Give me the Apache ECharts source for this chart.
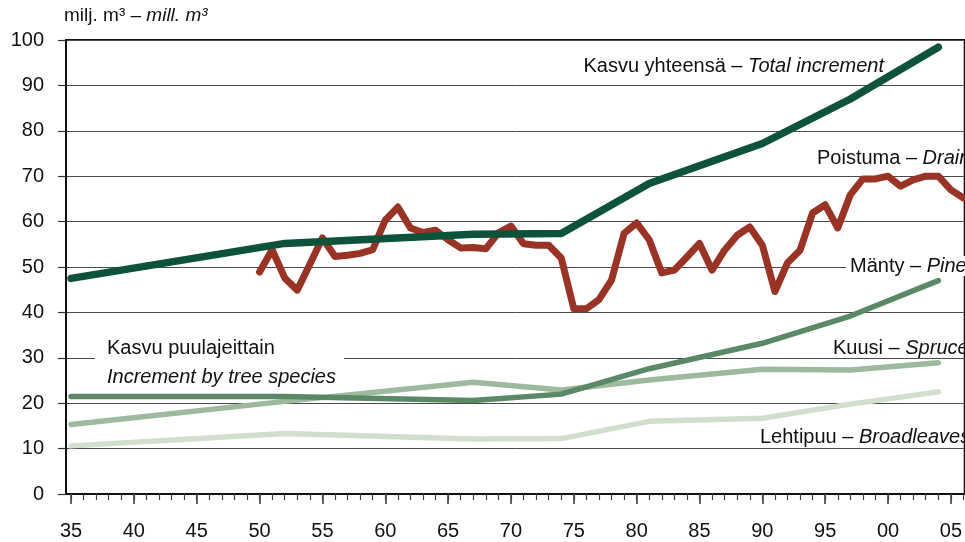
<!DOCTYPE html>
<html><head><meta charset="utf-8">
<script src="https://cdn.jsdelivr.net/npm/echarts@6/dist/echarts.min.js"></script>
<style>html,body{margin:0;padding:0;background:#fff}#c{width:965px;height:542px}</style>
</head><body><div id="c"></div>
<script>
// Increment (inventory mid-years)
const incYears = [1935, 1952, 1967, 1974, 1981, 1990, 1997, 2004];
const totalIncrement = [47.5, 55.2, 57.2, 57.4, 68.4, 77.2, 87.0, 98.4];
const pine = [21.5, 21.5, 20.6, 22.0, 27.6, 33.2, 39.2, 47.0];
const spruce = [15.3, 20.4, 24.6, 22.9, 25.1, 27.5, 27.3, 28.9];
const broadleaves = [10.6, 13.3, 12.1, 12.2, 16.0, 16.7, 19.8, 22.5];
// Drain, annual 1950-2006
const drainYears = [1950,1951,1952,1953,1954,1955,1956,1957,1958,1959,1960,1961,1962,1963,1964,1965,1966,1967,1968,1969,1970,1971,1972,1973,1974,1975,1976,1977,1978,1979,1980,1981,1982,1983,1984,1985,1986,1987,1988,1989,1990,1991,1992,1993,1994,1995,1996,1997,1998,1999,2000,2001,2002,2003,2004,2005,2006];
const drain = [48.9,53.8,47.6,44.9,50.6,56.4,52.3,52.6,53.0,53.8,60.3,63.2,58.6,57.6,58.1,56.0,54.2,54.3,54.0,57.5,59.0,55.1,54.8,54.8,52.0,40.8,40.8,42.8,47.1,57.4,59.7,56.0,48.7,49.3,52.2,55.2,49.3,53.7,57.0,58.8,54.8,44.6,50.9,53.7,61.9,63.7,58.6,65.9,69.4,69.4,70.0,67.8,69.2,70.0,70.0,67.0,65.2];
const yTicks = [0,10,20,30,40,50,60,70,80,90,100];
const xLabelYears = [1935,1940,1945,1950,1955,1960,1965,1970,1975,1980,1985,1990,1995,2000,2005];
const xMinorYears = [];
for (let y = 1935; y <= 2006; y++) xMinorYears.push(y);

const FONT = '"Liberation Sans Narrow", "Arial Narrow", "Liberation Sans", sans-serif';
const pair = (xs, ys) => xs.map((x, i) => [x, ys[i]]);
const lineSeries = (name, xs, ys, color, width, z) => ({
  name, type: 'line', data: pair(xs, ys), symbol: 'none', z,
  lineStyle: { color, width, cap: 'round', join: 'round' }, animation: false
});

const chart = echarts.init(document.getElementById('c'));
chart.setOption({
  animation: false,
  grid: { left: 66, top: 40, width: 901, height: 454, show: true, borderColor: '#111', borderWidth: 2, backgroundColor: 'transparent' },
  xAxis: [{
    type: 'value', min: 1934.6, max: 2006.1, position: 'bottom',
    axisLine: { show: true, lineStyle: { color: '#111', width: 2 } },
    axisTick: { show: true, customValues: xLabelYears, length: 10, lineStyle: { color: '#333', width: 1.5 } },
    axisLabel: { customValues: xLabelYears, formatter: v => String(Math.round(v)).slice(2), fontSize: 20, color: '#111', fontFamily: FONT, margin: 27 },
    splitLine: { show: false }
  }, {
    type: 'value', min: 1934.6, max: 2006.1, position: 'bottom', gridIndex: 0,
    axisLine: { show: false },
    axisTick: { show: true, customValues: xMinorYears, length: 6, lineStyle: { color: '#444', width: 1.2 } },
    axisLabel: { show: false },
    splitLine: { show: false }
  }],
  yAxis: {
    type: 'value', min: 0, max: 100, interval: 10,
    axisLine: { show: true, lineStyle: { color: '#111', width: 2 } },
    axisTick: { show: true, length: 8, lineStyle: { color: '#333', width: 1.2 } },
    axisLabel: { fontSize: 20, color: '#111', fontFamily: FONT, margin: 22 },
    splitLine: { show: true, lineStyle: { color: '#4a4a4a', width: 1 } }
  },
  series: [
    lineSeries('Lehtipuu', incYears, broadleaves, '#d2dfcd', 5.5, 2),
    lineSeries('Kuusi', incYears, spruce, '#9dba9f', 5.5, 3),
    lineSeries('Mänty', incYears, pine, '#5b8966', 5.5, 4),
    lineSeries('Poistuma', drainYears, drain, '#983325', 7, 5),
    lineSeries('Kasvu', incYears, totalIncrement, '#0d533a', 7.5, 6)
  ],
  graphic: [
    { type: 'text', left: 64, top: 6, style: { rich: { a: { fontSize: 19, fontFamily: FONT, fill: '#111' }, b: { fontSize: 19, fontFamily: FONT, fontStyle: 'italic', fill: '#111' } }, text: '{a|milj. m³ – }{b|mill. m³}' } },
    { type: 'text', x: 884, y: 66, style: { align: 'right', verticalAlign: 'middle', rich: { a: { fontSize: 20, fontFamily: FONT, fill: '#111' }, b: { fontSize: 20, fontFamily: FONT, fontStyle: 'italic', fill: '#111' } }, text: '{a|Kasvu yhteensä – }{b|Total increment}' } },
    { type: 'text', x: 817, y: 158, style: { align: 'left', verticalAlign: 'middle', rich: { a: { fontSize: 20, fontFamily: FONT, fill: '#111' }, b: { fontSize: 20, fontFamily: FONT, fontStyle: 'italic', fill: '#111' } }, text: '{a|Poistuma – }{b|Drain}' } },
    { type: 'text', x: 846, y: 266, z: 10, style: { align: 'left', verticalAlign: 'middle', backgroundColor: '#fff', padding: [0, 2, 0, 4], rich: { a: { fontSize: 20, fontFamily: FONT, fill: '#111' }, b: { fontSize: 20, fontFamily: FONT, fontStyle: 'italic', fill: '#111' } }, text: '{a|Mänty – }{b|Pine}' } },
    { type: 'text', x: 833, y: 348, style: { align: 'left', verticalAlign: 'middle', rich: { a: { fontSize: 20, fontFamily: FONT, fill: '#111' }, b: { fontSize: 20, fontFamily: FONT, fontStyle: 'italic', fill: '#111' } }, text: '{a|Kuusi – }{b|Spruce}' } },
    { type: 'text', x: 760, y: 437, style: { align: 'left', verticalAlign: 'middle', rich: { a: { fontSize: 20, fontFamily: FONT, fill: '#111' }, b: { fontSize: 20, fontFamily: FONT, fontStyle: 'italic', fill: '#111' } }, text: '{a|Lehtipuu – }{b|Broadleaves}' } },
    { type: 'rect', z: 9, shape: { x: 95, y: 352, width: 249, height: 12 }, style: { fill: '#fff' } },
    { type: 'text', x: 107, y: 348, z: 10, style: { align: 'left', verticalAlign: 'middle', text: 'Kasvu puulajeittain', fontSize: 20, fontFamily: FONT, fill: '#111' } },
    { type: 'text', x: 107, y: 377, z: 10, style: { align: 'left', verticalAlign: 'middle', text: 'Increment by tree species', fontSize: 20, fontFamily: FONT, fontStyle: 'italic', fill: '#111' } }
  ]
});
</script></body></html>
